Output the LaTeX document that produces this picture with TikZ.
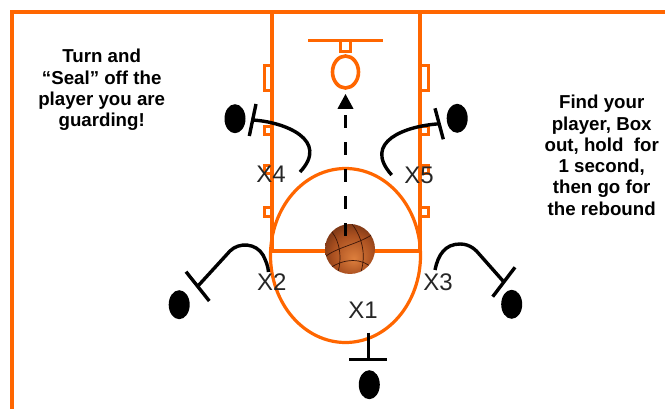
\documentclass[tikz,border=0pt]{standalone}
\usepackage{fontspec}
\setmainfont{Liberation Sans}
\usetikzlibrary{arrows.meta,shapes.geometric}

\definecolor{court}{HTML}{FF6600}
\definecolor{ballhi}{RGB}{222,128,62}
\definecolor{ballmid}{RGB}{170,80,32}
\definecolor{balldark}{RGB}{88,36,14}
\definecolor{seam}{RGB}{60,22,8}

\pgfdeclareradialshading{ballshade}{\pgfpoint{4bp}{-10bp}}{%
  color(0bp)=(ballhi); color(20bp)=(ballmid); color(38bp)=(balldark); color(50bp)=(balldark)}

\begin{document}
\begin{tikzpicture}[x=1pt,y=-1pt,
  courtline/.style={draw=court, line width=3.2pt},
  hashmark/.style={draw=court, line width=3pt, fill=white},
  attacker/.style={ellipse, fill=black, inner sep=0pt, minimum width=21pt, minimum height=29pt},
  boxout/.style={draw=black, line width=3.4pt},
  tbar/.style={draw=black, line width=3.4pt},
  deflabel/.style={font=\fontsize{24}{24}\selectfont, text=black!85, inner sep=0pt},
  note/.style={font=\fontsize{18.7}{21.3}\selectfont\bfseries, align=center, inner sep=0pt, anchor=north},
  shot/.style={draw=black, line width=3.4pt, dash pattern=on 13pt off 14pt,
    -{Triangle[length=15pt,width=15pt]}, shorten >=4pt}
]
\useasboundingbox (0,0) rectangle (665,409);

% outer court border
\draw[draw=court, line width=4pt] (11.5,409) -- (11.5,12.5) -- (665,12.5);

% lane hash marks
\foreach \ya/\yb in {66/91,127/135,166/174,208/217}{
  \draw[hashmark] (264,\ya) rectangle (272,\yb);
  \draw[hashmark] (420,\ya) rectangle (428,\yb);
}

% lane and free-throw line
\draw[courtline] (272,12.5) -- (272,251) -- (420,251) -- (420,12.5);

% free-throw circle
\draw[courtline] (345.5,255.5) ellipse [x radius=75, y radius=87];

% backboard, bracket and rim
\draw[draw=court, line width=3.6pt] (308,40.5) -- (383,40.5);
\draw[draw=court, line width=3pt] (340.5,40.5) rectangle (350,52);
\node[ellipse, draw=court, line width=3.6pt, fill=white, inner sep=0pt,
      minimum width=26pt, minimum height=32pt] (rim) at (345.5,72) {};

% basketball
\node[circle, inner sep=0pt, minimum size=50pt, shading=ballshade] (ball) at (350,249) {};
\begin{scope}
  \clip (350,249) circle [radius=25];
  \draw[seam, line width=0.7pt] (326,256) .. controls (340,246) and (360,244) .. (376,232);
  \draw[seam, line width=0.7pt] (330,268) .. controls (345,258) and (362,258) .. (372,268);
  \draw[seam, line width=0.7pt] (352,224) .. controls (364,240) and (366,258) .. (360,275);
  \draw[seam, line width=0.7pt] (332,232) .. controls (340,242) and (342,258) .. (338,272);
\end{scope}

% shot to the rim
\coordinate (release) at (345.5,236);
\draw[shot] (release) -- (rim.south);

% offensive players
\node[attacker] (o4) at (235,118.7) {};
\node[attacker] (o5) at (457.2,118.3) {};
\node[attacker] (o2) at (179.2,304.7) {};
\node[attacker] (o3) at (511.7,304.3) {};
\node[attacker] (o1) at (369.3,384.7) {};

% X4 box-out
\coordinate (t4a) at (256,104);
\coordinate (t4b) at (249.3,136);
\coordinate (t4m) at (252.7,120);
\coordinate (x4e) at (300,172);
\draw[tbar] (t4a) -- (t4b);
\draw[boxout] (t4m) .. controls (285,122) and (330,140) .. (x4e);

% X5 box-out
\coordinate (t5a) at (435,108.3);
\coordinate (t5b) at (443.3,139.3);
\coordinate (t5m) at (439.2,123.8);
\coordinate (x5e) at (391.7,175);
\draw[tbar] (t5a) -- (t5b);
\draw[boxout] (t5m) .. controls (405,126) and (362,142) .. (x5e);

% X2 box-out
\coordinate (t2a) at (186,271.7);
\coordinate (t2b) at (209.3,301);
\coordinate (t2m) at (197.7,286.3);
\coordinate (x2e) at (268.5,272);
\draw[tbar] (t2a) -- (t2b);
\draw[boxout] (t2m) -- (230,251) .. controls (239,242) and (256,243) .. (263,255)
  .. controls (266,261) and (268,266) .. (x2e);

% X3 box-out
\coordinate (t3a) at (515,267.3);
\coordinate (t3b) at (492.7,296.7);
\coordinate (t3m) at (503.9,282);
\coordinate (x3e) at (435,270);
\draw[tbar] (t3a) -- (t3b);
\draw[boxout] (x3e) .. controls (438,255) and (445,244) .. (460,244)
  .. controls (470,244) and (476,250) .. (480,255) -- (t3m);

% X1 box-out
\coordinate (t1a) at (349,359.3);
\coordinate (t1b) at (387.3,359.3);
\coordinate (t1m) at (368.3,359.3);
\coordinate (x1e) at (368.3,332.7);
\draw[tbar] (t1a) -- (t1b);
\draw[boxout] (x1e) -- (t1m);

% defenders
\node[deflabel] (x4) at (271,174) {X4};
\node[deflabel] (x5) at (419,175.5) {X5};
\node[deflabel] (x2) at (271.7,282) {X2};
\node[deflabel] (x3) at (438,282) {X3};
\node[deflabel] (x1) at (363,310) {X1};

% coaching notes
\node[note] (leftnote) at (101.7,49) {Turn and\\“Seal” off the\\player you are\\guarding!};
\node[note] (rightnote) at (601.7,95) {Find your\\player, Box\\out, hold~ for\\1 second,\\then go for\\the rebound};
\end{tikzpicture}
\end{document}
